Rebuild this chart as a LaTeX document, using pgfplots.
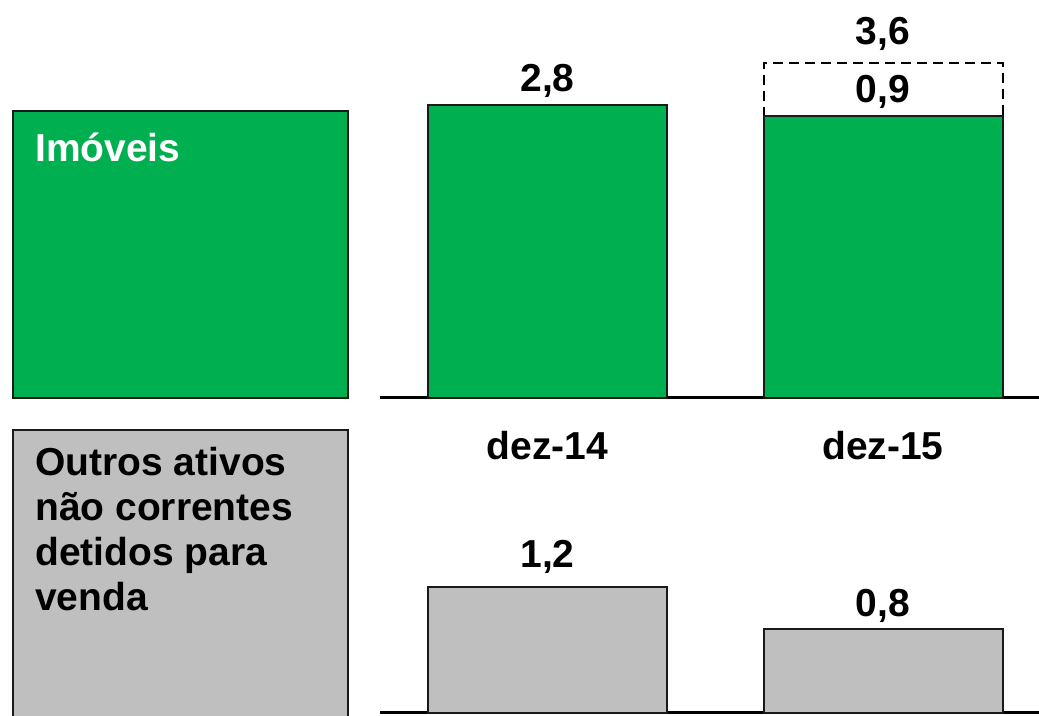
\documentclass[border=0pt]{standalone}
\usepackage{pgfplots}
\pgfplotsset{compat=1.18}
\usepackage{fontspec}
\setmainfont{Liberation Sans}
\definecolor{vgreen}{HTML}{00B050}
\definecolor{vgray}{HTML}{BFBFBF}
\definecolor{edge}{HTML}{1A1A1A}
\newcommand\lab{\fontsize{39}{45}\selectfont\bfseries}
\begin{document}
\begin{tikzpicture}[x=1pt,y=1pt]
\useasboundingbox (0,0) rectangle (1039,715);
\fill[white] (0,0) rectangle (1039,715);
% left label boxes
\draw[fill=vgreen, draw=edge, line width=2pt] (13,317) rectangle (348,604);
\node[anchor=base west, text=white, font=\lab, inner sep=0pt] at (35,553) {Imóveis};
\draw[fill=vgray, draw=edge, line width=2pt] (13,-6) rectangle (348,285);
\node[anchor=base west, font=\lab, inner sep=0pt] at (35,239) {Outros ativos};
\node[anchor=base west, font=\lab, inner sep=0pt] at (35,194) {não correntes};
\node[anchor=base west, font=\lab, inner sep=0pt] at (35,149) {detidos para};
\node[anchor=base west, font=\lab, inner sep=0pt] at (35,104) {venda};
% top chart
\begin{axis}[at={(380pt,317pt)}, anchor=south west, scale only axis,
  width=659pt, height=398pt, xmin=-0.4993, xmax=1.465, ymin=0, ymax=3.809,
  hide y axis, axis x line*=bottom, axis line style={line width=3pt, -, black},
  xtick={0,1}, xticklabels={dez-14,dez-15}, major tick length=0pt,
  xticklabel style={font=\lab, anchor=base, yshift=-62pt},
  ybar stacked, bar width=239pt, clip=false]
\addplot[fill=vgreen, draw=edge, line width=2pt] coordinates {(0,2.8) (1,2.7)};
\addplot[fill=none, draw=black, line width=2pt, dash pattern=on 10pt off 6pt] coordinates {(0,0) (1,0.51)};
\node[font=\lab, anchor=base, yshift=14pt] at (axis cs:0,2.8) {2,8};
\node[font=\lab, anchor=base, yshift=18pt] at (axis cs:1,3.21) {3,6};
\node[font=\lab, anchor=base, yshift=13pt] at (axis cs:1,2.7) {0,9};
\node[font=\lab, anchor=base] at (axis cs:1,1.215) {2,7};
\end{axis}
% bottom chart
\begin{axis}[at={(380pt,2pt)}, anchor=south west, scale only axis,
  width=659pt, height=250pt, xmin=-0.4993, xmax=1.465, ymin=0, ymax=2.381,
  hide y axis, axis x line*=bottom, axis line style={line width=3pt, -, black},
  xtick=\empty, major tick length=0pt,
  ybar, bar width=239pt, clip=false]
\addplot[fill=vgray, draw=edge, line width=2pt] coordinates {(0,1.2) (1,0.8)};
\node[font=\lab, anchor=base, yshift=20pt] at (axis cs:0,1.2) {1,2};
\node[font=\lab, anchor=base, yshift=13pt] at (axis cs:1,0.8) {0,8};
\end{axis}
\end{tikzpicture}
\end{document}
